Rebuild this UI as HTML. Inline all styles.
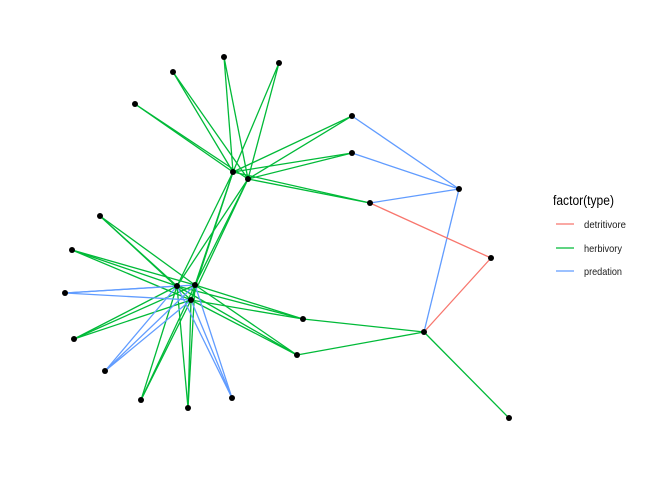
<!DOCTYPE html>
<html><head><meta charset="utf-8"><style>
html,body{margin:0;padding:0;background:#fff;}
svg{display:block;}
text{font-family:"Liberation Sans",sans-serif;}
</style></head><body>
<svg width="672" height="480" viewBox="0 0 672 480">
<g stroke-width="1.3" fill="none">
<g stroke="#00BA38">
<line x1="135" y1="104" x2="233" y2="172"/><line x1="135" y1="104" x2="248" y2="179"/>
<line x1="173" y1="72" x2="233" y2="172"/><line x1="173" y1="72" x2="248" y2="179"/>
<line x1="224" y1="57" x2="233" y2="172"/><line x1="224" y1="57" x2="248" y2="179"/>
<line x1="279" y1="63" x2="233" y2="172"/><line x1="279" y1="63" x2="248" y2="179"/>
<line x1="352" y1="116" x2="233" y2="172"/><line x1="352" y1="116" x2="248" y2="179"/>
<line x1="352" y1="153" x2="233" y2="172"/><line x1="352" y1="153" x2="248" y2="179"/>
<line x1="370" y1="203" x2="233" y2="172"/><line x1="370" y1="203" x2="248" y2="179"/>
<line x1="177" y1="286" x2="233" y2="172"/><line x1="177" y1="286" x2="248" y2="179"/>
<line x1="195" y1="285" x2="233" y2="172"/><line x1="195" y1="285" x2="248" y2="179"/>
<line x1="191" y1="300" x2="233" y2="172"/><line x1="191" y1="300" x2="248" y2="179"/>
<line x1="100" y1="216" x2="177" y2="286"/><line x1="100" y1="216" x2="195" y2="285"/><line x1="100" y1="216" x2="191" y2="300"/>
<line x1="72" y1="250" x2="177" y2="286"/><line x1="72" y1="250" x2="195" y2="285"/><line x1="72" y1="250" x2="191" y2="300"/>
<line x1="74" y1="339" x2="177" y2="286"/><line x1="74" y1="339" x2="195" y2="285"/><line x1="74" y1="339" x2="191" y2="300"/>
<line x1="141" y1="400" x2="177" y2="286"/><line x1="141" y1="400" x2="195" y2="285"/><line x1="141" y1="400" x2="191" y2="300"/>
<line x1="188" y1="408" x2="177" y2="286"/><line x1="188" y1="408" x2="195" y2="285"/><line x1="188" y1="408" x2="191" y2="300"/>
<line x1="303" y1="319" x2="177" y2="286"/><line x1="303" y1="319" x2="195" y2="285"/><line x1="303" y1="319" x2="191" y2="300"/>
<line x1="297" y1="355" x2="177" y2="286"/><line x1="297" y1="355" x2="195" y2="285"/><line x1="297" y1="355" x2="191" y2="300"/>
<line x1="303" y1="319" x2="424" y2="332"/><line x1="297" y1="355" x2="424" y2="332"/>
<line x1="424" y1="332" x2="509" y2="418"/>
</g>
<g stroke="#619CFF">
<line x1="65" y1="293" x2="177" y2="286"/><line x1="65" y1="293" x2="195" y2="285"/><line x1="65" y1="293" x2="191" y2="300"/>
<line x1="105" y1="371" x2="177" y2="286"/><line x1="105" y1="371" x2="195" y2="285"/><line x1="105" y1="371" x2="191" y2="300"/>
<line x1="232" y1="398" x2="177" y2="286"/><line x1="232" y1="398" x2="195" y2="285"/><line x1="232" y1="398" x2="191" y2="300"/>
<line x1="352" y1="116" x2="459" y2="189"/><line x1="352" y1="153" x2="459" y2="189"/>
<line x1="370" y1="203" x2="459" y2="189"/><line x1="459" y1="189" x2="424" y2="332"/>
</g>
<g stroke="#F8766D">
<line x1="370" y1="203" x2="491" y2="258"/><line x1="491" y1="258" x2="424" y2="332"/>
</g>
</g>
<g fill="#000">
<circle cx="233" cy="172" r="3"/><circle cx="248" cy="179" r="3"/>
<circle cx="135" cy="104" r="3"/><circle cx="173" cy="72" r="3"/><circle cx="224" cy="57" r="3"/><circle cx="279" cy="63" r="3"/>
<circle cx="352" cy="116" r="3"/><circle cx="352" cy="153" r="3"/><circle cx="370" cy="203" r="3"/>
<circle cx="459" cy="189" r="3"/><circle cx="491" cy="258" r="3"/><circle cx="424" cy="332" r="3"/><circle cx="509" cy="418" r="3"/>
<circle cx="177" cy="286" r="3"/><circle cx="195" cy="285" r="3"/><circle cx="191" cy="300" r="3"/>
<circle cx="100" cy="216" r="3"/><circle cx="72" cy="250" r="3"/><circle cx="65" cy="293" r="3"/><circle cx="74" cy="339" r="3"/>
<circle cx="105" cy="371" r="3"/><circle cx="141" cy="400" r="3"/><circle cx="188" cy="408" r="3"/><circle cx="232" cy="398" r="3"/>
<circle cx="303" cy="319" r="3"/><circle cx="297" cy="355" r="3"/>
</g>
<text x="553" y="205" font-size="13.5" fill="#000" textLength="61" lengthAdjust="spacingAndGlyphs">factor(type)</text>
<line x1="556" y1="224" x2="574" y2="224" stroke="#F8766D" stroke-width="1.3"/>
<line x1="556" y1="248" x2="574" y2="248" stroke="#00BA38" stroke-width="1.3"/>
<line x1="556" y1="271" x2="574" y2="271" stroke="#619CFF" stroke-width="1.3"/>
<text x="584" y="228" font-size="10.5" fill="#1a1a1a" textLength="42" lengthAdjust="spacingAndGlyphs">detritivore</text>
<text x="584" y="252" font-size="10.5" fill="#1a1a1a" textLength="38" lengthAdjust="spacingAndGlyphs">herbivory</text>
<text x="584" y="275" font-size="10.5" fill="#1a1a1a" textLength="38" lengthAdjust="spacingAndGlyphs">predation</text>
</svg>
</body></html>
